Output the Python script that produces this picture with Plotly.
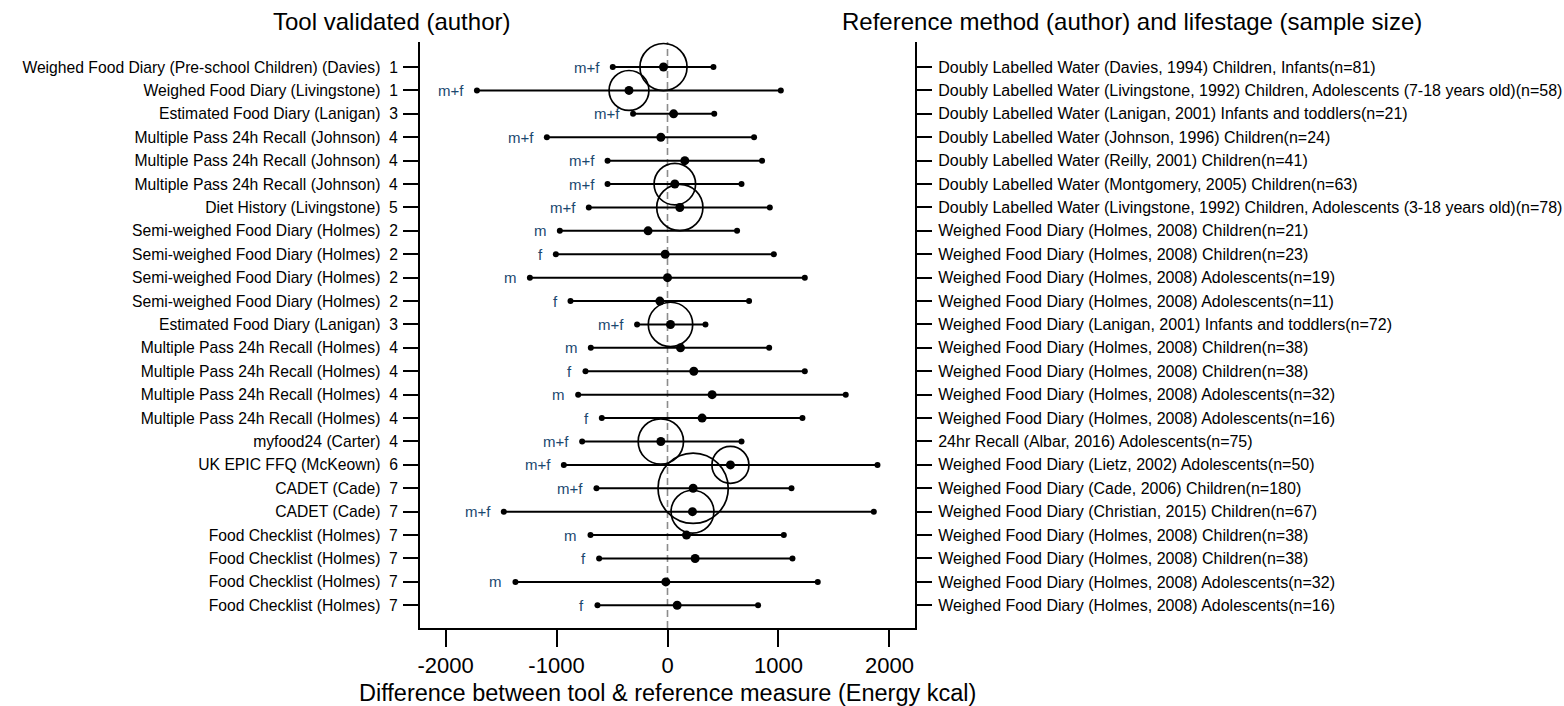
import plotly.graph_objects as go

# Tool validated (author) and its quality score
tools = [
    "Weighed Food Diary (Pre-school Children) (Davies)",
    "Weighed Food Diary (Livingstone)",
    "Estimated Food Diary (Lanigan)",
    "Multiple Pass 24h Recall (Johnson)",
    "Multiple Pass 24h Recall (Johnson)",
    "Multiple Pass 24h Recall (Johnson)",
    "Diet History (Livingstone)",
    "Semi-weighed Food Diary (Holmes)",
    "Semi-weighed Food Diary (Holmes)",
    "Semi-weighed Food Diary (Holmes)",
    "Semi-weighed Food Diary (Holmes)",
    "Estimated Food Diary (Lanigan)",
    "Multiple Pass 24h Recall (Holmes)",
    "Multiple Pass 24h Recall (Holmes)",
    "Multiple Pass 24h Recall (Holmes)",
    "Multiple Pass 24h Recall (Holmes)",
    "myfood24 (Carter)",
    "UK EPIC FFQ (McKeown)",
    "CADET (Cade)",
    "CADET (Cade)",
    "Food Checklist (Holmes)",
    "Food Checklist (Holmes)",
    "Food Checklist (Holmes)",
    "Food Checklist (Holmes)",
]
scores = [1, 1, 3, 4, 4, 4, 5, 2, 2, 2, 2, 3, 4, 4, 4, 4, 4, 6, 7, 7, 7, 7, 7, 7]

# Reference method (author) and lifestage
references = [
    "Doubly Labelled Water (Davies, 1994) Children, Infants",
    "Doubly Labelled Water (Livingstone, 1992) Children, Adolescents (7-18 years old)",
    "Doubly Labelled Water (Lanigan, 2001) Infants and toddlers",
    "Doubly Labelled Water (Johnson, 1996) Children",
    "Doubly Labelled Water (Reilly, 2001) Children",
    "Doubly Labelled Water (Montgomery, 2005) Children",
    "Doubly Labelled Water (Livingstone, 1992) Children, Adolescents (3-18 years old)",
    "Weighed Food Diary (Holmes, 2008) Children",
    "Weighed Food Diary (Holmes, 2008) Children",
    "Weighed Food Diary (Holmes, 2008) Adolescents",
    "Weighed Food Diary (Holmes, 2008) Adolescents",
    "Weighed Food Diary (Lanigan, 2001) Infants and toddlers",
    "Weighed Food Diary (Holmes, 2008) Children",
    "Weighed Food Diary (Holmes, 2008) Children",
    "Weighed Food Diary (Holmes, 2008) Adolescents",
    "Weighed Food Diary (Holmes, 2008) Adolescents",
    "24hr Recall (Albar, 2016) Adolescents",
    "Weighed Food Diary (Lietz, 2002) Adolescents",
    "Weighed Food Diary (Cade, 2006) Children",
    "Weighed Food Diary (Christian, 2015) Children",
    "Weighed Food Diary (Holmes, 2008) Children",
    "Weighed Food Diary (Holmes, 2008) Children",
    "Weighed Food Diary (Holmes, 2008) Adolescents",
    "Weighed Food Diary (Holmes, 2008) Adolescents",
]
sample_size = [81, 58, 21, 24, 41, 63, 78, 21, 23, 19, 11, 72,
               38, 38, 32, 16, 75, 50, 180, 67, 38, 38, 32, 16]

sex = ["m+f", "m+f", "m+f", "m+f", "m+f", "m+f", "m+f", "m", "f", "m", "f", "m+f",
       "m", "f", "m", "f", "m+f", "m+f", "m+f", "m+f", "m", "f", "m", "f"]

# Mean difference (tool - reference, kcal) with lower / upper limits of agreement
mean_diff = [-36, -347, 55, -60, 156, 66, 111, -175, -21, 0, -69, 27,
             117, 237, 402, 312, -60, 567, 231, 225, 171, 249, -15, 87]
lower_loa = [-493, -1717, -310, -1087, -540, -540, -709, -970, -1006, -1240, -874, -274,
             -691, -739, -805, -592, -769, -934, -640, -1475, -694, -616, -1370, -631]
upper_loa = [414, 1021, 421, 780, 852, 667, 922, 627, 958, 1237, 735, 342,
             916, 1237, 1606, 1216, 667, 1892, 1117, 1859, 1048, 1126, 1354, 816]

# Studies drawn with a weight circle (area proportional to sample size)
weighted = [True, True, False, False, False, True, True, False, False, False, False, True,
            False, False, False, False, True, True, True, True, False, False, False, False]

xticks = [-2000, -1000, 0, 1000, 2000]

FONT = "Arial, 'Liberation Sans', sans-serif"
BLUE = "#1a476f"

rows = list(range(1, len(tools) + 1))
left_text = [f"{t}  {s}" for t, s in zip(tools, scores)]
right_text = [f"{r}(n={n})" for r, n in zip(references, sample_size)]

fig = go.Figure()

# Limits-of-agreement bars: one segment per study
seg_x, seg_y = [], []
for lo, hi, r in zip(lower_loa, upper_loa, rows):
    seg_x += [lo, hi, None]
    seg_y += [r, r, None]
fig.add_trace(go.Scatter(x=seg_x, y=seg_y, mode="lines",
                         line=dict(color="black", width=2), hoverinfo="skip"))

# End caps
fig.add_trace(go.Scatter(x=lower_loa + upper_loa, y=rows + rows, mode="markers",
                         marker=dict(color="black", size=6), hoverinfo="skip"))

# Weight circles
wx = [m for m, w in zip(mean_diff, weighted) if w]
wy = [r for r, w in zip(rows, weighted) if w]
wn = [n for n, w in zip(sample_size, weighted) if w]
fig.add_trace(go.Scatter(x=wx, y=wy, mode="markers",
                         marker=dict(size=wn, sizemode="area", sizeref=0.073,
                                     symbol="circle-open", color="black", opacity=1,
                                     line=dict(color="black", width=1.7)),
                         hoverinfo="skip"))

# Mean difference points
fig.add_trace(go.Scatter(x=mean_diff, y=rows, mode="markers",
                         marker=dict(color="black", size=9), hoverinfo="skip"))

# Invisible trace on the right-hand axis so it is drawn
fig.add_trace(go.Scatter(x=mean_diff, y=rows, yaxis="y2", mode="markers",
                         marker=dict(opacity=0), hoverinfo="skip"))

# Sex labels to the left of each bar
for lo, r, s in zip(lower_loa, rows, sex):
    fig.add_annotation(x=lo, y=r, xref="x", yref="y", text=s, showarrow=False,
                       xanchor="right", xshift=-11,
                       font=dict(family=FONT, size=15, color=BLUE))

# Reference line at zero
fig.add_shape(type="line", x0=0, x1=0, y0=0, y1=1, xref="x", yref="paper",
              line=dict(color="#8c8c8c", width=1.6, dash="7px,4px"), layer="below")

yrange = [24.97, -0.07]
fig.update_layout(
    width=1564, height=706,
    margin=dict(l=420, r=649, t=42, b=78, autoexpand=False),
    paper_bgcolor="white", plot_bgcolor="white",
    showlegend=False,
    font=dict(family=FONT, color="black"),
    xaxis=dict(range=[-2230, 2230], tickvals=xticks, ticktext=[str(v) for v in xticks],
               ticks="outside", ticklen=17, tickwidth=1.5, tickcolor="black",
               showline=True, linecolor="black", linewidth=2, showgrid=False,
               zeroline=False, automargin=False,
               tickfont=dict(family=FONT, size=22, color="black")),
    yaxis=dict(range=yrange, tickvals=rows, ticktext=left_text,
               ticks="outside", ticklen=15, tickwidth=1.5, tickcolor="black",
               showline=True, linecolor="black", linewidth=2, showgrid=False,
               zeroline=False, automargin=False, ticklabelstandoff=2,
               tickfont=dict(family=FONT, size=15.7, color="black")),
    yaxis2=dict(range=yrange, tickvals=rows, ticktext=right_text, overlaying="y",
                side="right", ticks="outside", ticklen=15, tickwidth=1.5,
                tickcolor="black", showline=True, linecolor="black", linewidth=2,
                showgrid=False, zeroline=False, automargin=False, ticklabelstandoff=3,
                tickfont=dict(family=FONT, size=16, color="black")),
)

# Column headings and axis title
fig.add_annotation(x=(391 - 420) / 495, y=1 + 20 / 586, xref="paper", yref="paper",
                   text="Tool validated (author)", showarrow=False,
                   xanchor="center", yanchor="middle",
                   font=dict(family=FONT, size=24, color="black"))
fig.add_annotation(x=(1131.5 - 420) / 495, y=1 + 20 / 586, xref="paper", yref="paper",
                   text="Reference method (author) and lifestage (sample size)",
                   showarrow=False, xanchor="center", yanchor="middle",
                   font=dict(family=FONT, size=24, color="black"))
fig.add_annotation(x=0.5, y=-65 / 586, xref="paper", yref="paper",
                   text="Difference between tool & reference measure (Energy kcal)",
                   showarrow=False, xanchor="center", yanchor="middle",
                   font=dict(family=FONT, size=23.5, color="black"))

fig.write_html("out.html")
